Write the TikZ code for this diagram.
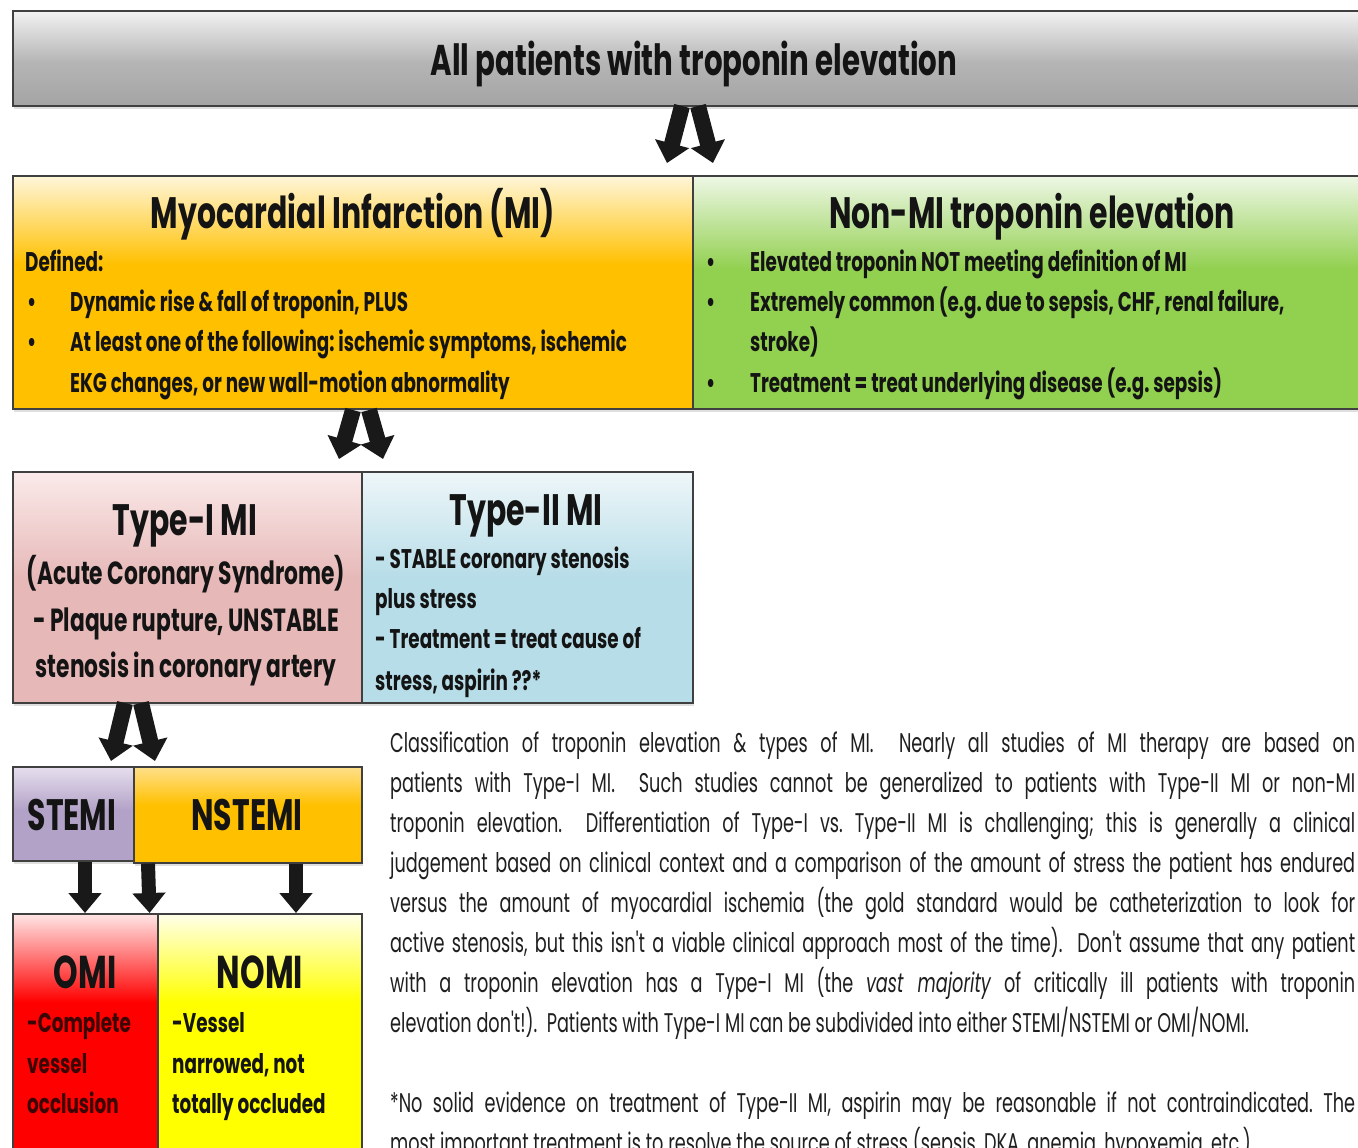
\documentclass[tikz,border=0pt]{standalone}
\usepackage{fontspec}
\setmainfont{Poppins}[FakeStretch=0.68]
\newfontfamily\parafont{Poppins}[FakeStretch=0.655]
\usetikzlibrary{arrows.meta,shadows,calc}
\frenchspacing
\hyphenpenalty=10000 \exhyphenpenalty=10000
% colours
\definecolor{gtop}{HTML}{F2F2F2}\definecolor{gmid}{HTML}{B5B5B5}\definecolor{gbot}{HTML}{A4A4A4}
\definecolor{mitop}{HTML}{FFF6DA}\definecolor{mibot}{HTML}{FFC000}
\definecolor{nmtop}{HTML}{EEF7E6}\definecolor{nmbot}{HTML}{92D050}
\definecolor{t1top}{HTML}{FBEAEA}\definecolor{t1bot}{HTML}{E6B9B8}
\definecolor{t2top}{HTML}{EEF6F9}\definecolor{t2bot}{HTML}{B7DDE8}
\definecolor{sttop}{HTML}{E6DFEE}\definecolor{stbot}{HTML}{B3A2C7}
\definecolor{nstop}{HTML}{FFE08A}\definecolor{nsbot}{HTML}{FFC000}
\definecolor{omtop}{HTML}{FFE6E6}\definecolor{ombot}{HTML}{FF0000}
\definecolor{notop}{HTML}{FFFFEA}\definecolor{nobot}{HTML}{FFFF00}
\definecolor{omtext}{HTML}{3C0505}
% shadings (path spans 25bp..75bp)
\pgfdeclareverticalshading{shgray}{100bp}{color(0bp)=(gbot); color(25bp)=(gbot); color(48bp)=(gmid); color(75bp)=(gtop); color(100bp)=(gtop)}
\pgfdeclareverticalshading{shmi}{100bp}{color(0bp)=(mibot); color(56bp)=(mibot); color(75bp)=(mitop); color(100bp)=(mitop)}
\pgfdeclareverticalshading{shnm}{100bp}{color(0bp)=(nmbot); color(55bp)=(nmbot); color(75bp)=(nmtop); color(100bp)=(nmtop)}
\pgfdeclareverticalshading{sht1}{100bp}{color(0bp)=(t1bot); color(52bp)=(t1bot); color(75bp)=(t1top); color(100bp)=(t1top)}
\pgfdeclareverticalshading{sht2}{100bp}{color(0bp)=(t2bot); color(52bp)=(t2bot); color(75bp)=(t2top); color(100bp)=(t2top)}
\pgfdeclareverticalshading{shst}{100bp}{color(0bp)=(stbot); color(52bp)=(stbot); color(75bp)=(sttop); color(100bp)=(sttop)}
\pgfdeclareverticalshading{shns}{100bp}{color(0bp)=(nsbot); color(55bp)=(nsbot); color(75bp)=(nstop); color(100bp)=(nstop)}
\pgfdeclareverticalshading{shom}{100bp}{color(0bp)=(ombot); color(58bp)=(ombot); color(75bp)=(omtop); color(100bp)=(omtop)}
\pgfdeclareverticalshading{shno}{100bp}{color(0bp)=(nobot); color(58bp)=(nobot); color(75bp)=(notop); color(100bp)=(notop)}
\tikzset{
  box/.style={draw=black!75, line width=1.6pt, shade, anchor=north west, inner sep=0pt,
    drop shadow={shadow xshift=1.5pt, shadow yshift=-3pt, opacity=0.25}},
  ttl/.style={font=\bfseries\fontsize{44}{50}\selectfont, anchor=base, inner sep=0pt, text=black!92},
  bt/.style={font=\bfseries\fontsize{27}{32}\selectfont, anchor=base west, inner sep=0pt, text=black!92},
  ct/.style={font=\bfseries\fontsize{32}{38}\selectfont, anchor=base, inner sep=0pt, text=black!92},
  bigarrow/.style={line width=16pt, -{Triangle[width=34pt,length=20pt]}, draw=black!90},
  downarrow/.style={line width=14pt, -{Triangle[width=32pt,length=20pt]}, draw=black!90},
  paratext/.style={anchor=north west, inner sep=0pt, text width=965pt, align=justify,
      font=\parafont\fontsize{27}{40}\selectfont, text=black!88},
}
\begin{document}
\begin{tikzpicture}[x=1pt,y=-1pt]
\path[use as bounding box] (0,0) rectangle (1358,1148);
\clip (0,0) rectangle (1358,1148);
\fill[white] (0,0) rectangle (1358,1148);

% ---- boxes
\node[box, shading=shgray, minimum width=1362pt, minimum height=95pt] (top) at (12,10) {};
\node[box, shading=shmi, minimum width=680pt, minimum height=233pt] (mi) at (12,175) {};
\node[box, shading=shnm, minimum width=678pt, minimum height=233pt] (nmi) at (692,175) {};
\node[box, shading=sht1, minimum width=349pt, minimum height=231pt] (t1) at (12,471) {};
\node[box, shading=sht2, minimum width=331pt, minimum height=231pt] (t2) at (361,471) {};
\node[box, shading=shst, minimum width=121pt, minimum height=94pt] (stemi) at (12,766) {};
\node[box, shading=shns, minimum width=228pt, minimum height=96pt] (nstemi) at (133,766) {};
\node[box, shading=shom, minimum width=145pt, minimum height=260pt] (omi) at (12,913) {};
\node[box, shading=shno, minimum width=204pt, minimum height=260pt] (nomi) at (157,913) {};

% ---- titles
\node[ttl, font=\bfseries\fontsize{43}{50}\selectfont] (toptxt) at ($(top.north)+(0,65)$) {All patients with troponin elevation};
\node[ttl] (mititle) at ($(mi.north)+(0,53)$) {Myocardial Infarction (MI)};
\node[ttl] (nmititle) at ($(nmi.north)+(0,53)$) {Non-MI troponin elevation};
\node[ttl] (t1title) at (185,535) {Type-I MI};
\node[ttl] (t2title) at (526,525) {Type-II MI};
\node[ttl] (stemitxt) at (72,830) {STEMI};
\node[ttl] (nstemitxt) at (247,830) {NSTEMI};
\node[ttl, font=\bfseries\fontsize{46}{50}\selectfont] (omitxt) at (85,988) {OMI};
\node[ttl, font=\bfseries\fontsize{46}{50}\selectfont] (nomitxt) at (260,988) {NOMI};

% ---- MI box text
\node[bt] (defd) at (25,271) {Defined:};
\node[bt] (mib1) at (27,311) {•};
\node[bt] (mil1) at (70,311) {Dynamic rise \& fall of troponin, PLUS};
\node[bt] (mib2) at (27,351) {•};
\node[bt] (mil2) at (70,351) {At least one of the following: ischemic symptoms, ischemic};
\node[bt] (mil3) at (70,392) {EKG changes, or new wall-motion abnormality};

% ---- Non-MI box text
\node[bt] (nmb1) at (706,271) {•};
\node[bt] (nml1) at (750,271) {Elevated troponin NOT meeting definition of MI};
\node[bt] (nmb2) at (706,311) {•};
\node[bt] (nml2) at (750,311) {Extremely common (e.g. due to sepsis, CHF, renal failure,};
\node[bt] (nml3) at (750,351) {stroke)};
\node[bt] (nmb3) at (706,392) {•};
\node[bt] (nml4) at (750,392) {Treatment = treat underlying disease (e.g. sepsis)};

% ---- Type-I text
\node[ct] (t1l1) at (186,584) {(Acute Coronary Syndrome)};
\node[ct] (t1l2) at (186,631) {- Plaque rupture, UNSTABLE};
\node[ct] (t1l3) at (186,677) {stenosis in coronary artery};

% ---- Type-II text
\node[bt] (t2l1) at (375,568) {- STABLE coronary stenosis};
\node[bt] (t2l2) at (375,608) {plus stress};
\node[bt] (t2l3) at (375,648) {- Treatment = treat cause of};
\node[bt] (t2l4) at (375,690) {stress, aspirin ??*};

% ---- OMI / NOMI text
\node[bt, text=omtext] (oml1) at (27,1032) {-Complete};
\node[bt, text=omtext] (oml2) at (27,1073) {vessel};
\node[bt, text=omtext] (oml3) at (27,1113) {occlusion};
\node[bt] (nol1) at (172,1032) {-Vessel};
\node[bt] (nol2) at (172,1073) {narrowed, not};
\node[bt] (nol3) at (172,1113) {totally occluded};

% ---- arrow end points
\coordinate (a1ls) at (682,106); \coordinate (a1le) at (667,163);
\coordinate (a1rs) at (698,106); \coordinate (a1re) at (713,163);
\coordinate (a2ls) at (353,410); \coordinate (a2le) at (339,459);
\coordinate (a2rs) at (369,410); \coordinate (a2re) at (383,459);
\coordinate (a3ls) at (125,703); \coordinate (a3le) at (111,761);
\coordinate (a3rs) at (141,703); \coordinate (a3re) at (155,761);
\draw[bigarrow] (a1ls) -- (a1le);
\draw[bigarrow] (a1rs) -- (a1re);
\draw[bigarrow] (a2ls) -- (a2le);
\draw[bigarrow] (a2rs) -- (a2re);
\draw[bigarrow] (a3ls) -- (a3le);
\draw[bigarrow] (a3rs) -- (a3re);
\draw[downarrow] (stemi.south -| omitxt.base) -- (omi.north -| omitxt.base);
\draw[downarrow] ($(nstemi.south west)+(15,0)$) -- ($(omi.north east)+(-9,0)$);
\draw[downarrow] ($(nstemi.south west)+(163,0)$) -- ($(nomi.north west)+(139,0)$);

% ---- paragraph
\node[paratext] (para) at (390,732)
{Classification of troponin elevation \& types of MI.\ \ Nearly all studies of MI therapy are based on\linebreak
patients with Type-I MI.\ \ Such studies cannot be generalized to patients with Type-II MI or non-MI\linebreak
troponin elevation.\ \ Differentiation of Type-I vs. Type-II MI is challenging; this is generally a clinical\linebreak
judgement based on clinical context and a comparison of the amount of stress the patient has endured\linebreak
versus the amount of myocardial ischemia (the gold standard would be catheterization to look for\linebreak
active stenosis, but this isn't a viable clinical approach most of the time).\ \ Don't assume that any patient\linebreak
with a troponin elevation has a Type-I MI (the \emph{vast majority} of critically ill patients with troponin\linebreak
elevation don't!).\ \ Patients with Type-I MI can be subdivided into either STEMI/NSTEMI or OMI/NOMI.};
\node[paratext] (foot) at (390,1092)
{*No solid evidence on treatment of Type-II MI, aspirin may be reasonable if not contraindicated. The\linebreak
most important treatment is to resolve the source of stress (sepsis, DKA, anemia, hypoxemia, etc.)};
\end{tikzpicture}
\end{document}
